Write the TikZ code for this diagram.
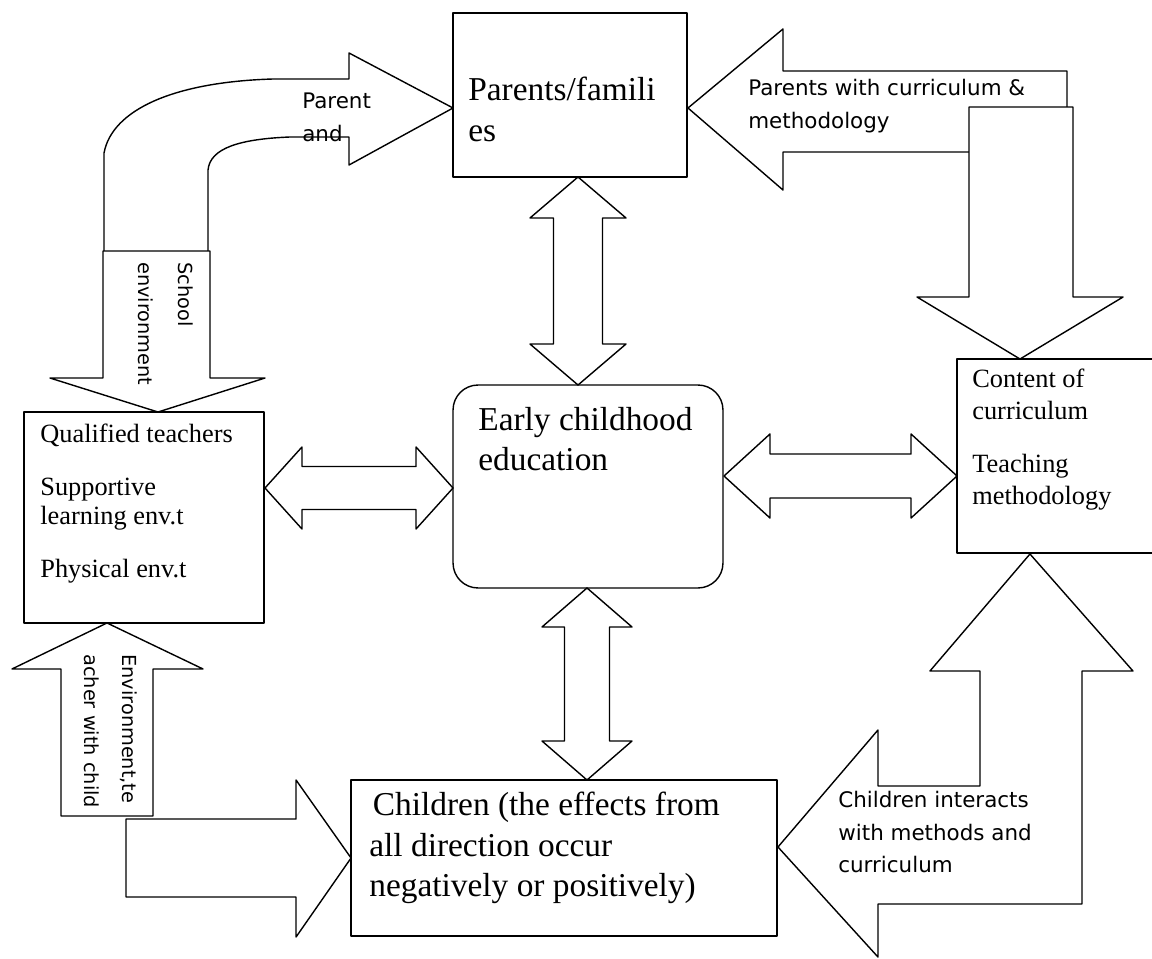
\documentclass[tikz,border=0pt]{standalone}
\usepackage{fontspec}
\setmainfont{Liberation Serif}
\newfontfamily\lblfont{DejaVu Sans}
\usetikzlibrary{calc}

\begin{document}
\begin{tikzpicture}[line cap=round,line join=round,x=0.02cm,y=-0.02cm,
  box/.style={draw,line width=0.8pt,inner sep=0pt,outer sep=0pt},
  blk/.style={draw,fill=white,line width=0.8pt},
  dblarr/.style n args={3}{blk,to path={
    -- ($(\tikztostart)!#3!(\tikztotarget)!#2!90:(\tikztotarget)$)
    -- ($(\tikztostart)!#3!(\tikztotarget)!#1!90:(\tikztotarget)$)
    -- ($(\tikztotarget)!#3!(\tikztostart)!#1!-90:(\tikztostart)$)
    -- ($(\tikztotarget)!#3!(\tikztostart)!#2!-90:(\tikztostart)$)
    -- (\tikztotarget)
    -- ($(\tikztotarget)!#3!(\tikztostart)!#2!90:(\tikztostart)$)
    -- ($(\tikztotarget)!#3!(\tikztostart)!#1!90:(\tikztostart)$)
    -- ($(\tikztostart)!#3!(\tikztotarget)!#1!-90:(\tikztotarget)$)
    -- ($(\tikztostart)!#3!(\tikztotarget)!#2!-90:(\tikztotarget)$)
    -- cycle}},
  big/.style={font=\fontsize{19}{23}\selectfont,align=left,inner sep=0pt,anchor=north west},
  mid/.style={font=\fontsize{15}{16.4}\selectfont,align=left,inner sep=0pt,anchor=north west},
  lbl/.style={font=\lblfont\fontsize{12.2}{18.5}\selectfont,align=left,inner sep=0pt,anchor=north west}]
\useasboundingbox (0,0) rectangle (1152,959);
%boxes
\node[box,minimum width=4.68cm,minimum height=3.28cm] (par) at (570,95) {};%parents
\node[box,rounded corners=0.5cm,minimum width=5.4cm,minimum height=4.06cm] (ece) at (588,486.5) {};%ece
\node[box,minimum width=4.8cm,minimum height=4.22cm] (tch) at (144,517.5) {};%teachers
\node[box,minimum width=4.06cm,minimum height=3.88cm] (cnt) at (1058.5,456) {};%content
\node[box,minimum width=8.52cm,minimum height=3.12cm] (chd) at (564,858) {};%children
%%%%%%%%
%tips
\coordinate (ptip) at ($(par.west)+(0,13)$);
\coordinate (ptip2) at ($(par.east)+(1,13)$);
\coordinate (ctip) at ($(cnt.north)+(-38.5,0)$);
\coordinate (ttip) at ($(tch.north)+(14,0)$);
\coordinate (btip) at ($(tch.south)+(-37,0)$);
\coordinate (ktip) at (chd.west);
\coordinate (ktip2) at ($(chd.east)+(1,-11)$);
%%school to parents (bent)
\draw[blk] (ptip) -- ++(-104,-55) -- ++(0,26) -- ++(-76,0)
  .. controls +(-100,3) and +(8,-43) .. ++(-169,74) -- ++(0,99) -- ++(104,0) -- ++(0,-82)
  .. controls +(2,-22) and +(-50,2) .. ++(82,-33) -- ++(59,0) -- ++(0,28) -- cycle;
%%school env down
\draw[blk] (ttip) -- ++(-108,-34) -- ++(53,0) -- ++(0,-127) -- ++(107,0) -- ++(0,127) -- ++(55,0) -- cycle;
%%parents with curriculum
\draw[blk] (ptip2) -- ++(95,-79) -- ++(0,42) -- ++(284,0) -- ++(0,81) -- ++(-284,0) -- ++(0,38) -- cycle;
%%down to content
\draw[blk] (ctip) -- ++(-103,-62) -- ++(52,0) -- ++(0,-190) -- ++(104,0) -- ++(0,190) -- ++(50,0) -- cycle;
%%to children from left
\draw[blk] (ktip) -- ++(-55,-78) -- ++(0,39) -- ++(-170,0) -- ++(0,78) -- ++(170,0) -- ++(0,40) -- cycle;
%%env teacher up
\draw[blk] (btip) -- ++(96,46) -- ++(-50,0) -- ++(0,147) -- ++(-92,0) -- ++(0,-147) -- ++(-49,0) -- cycle;
%%children interacts (L shape)
\draw[blk] (ktip2) -- ++(100,-117) -- ++(0,56) -- ++(102,0) -- ++(0,-115) -- ++(-50,0) -- ++(100,-117)
  -- ++(103,117) -- ++(-51,0) -- ++(0,233) -- ++(-204,0) -- ++(0,53) -- cycle;
%%double arrows
\coordinate (pa) at ($(par.south)+(8,0)$);
\coordinate (pb) at ($(ece.north)+(-10,0)$);
\coordinate (ea) at ($(ece.south)+(-1,0)$);
\coordinate (eb) at ($(chd.north)+(23,0)$);
\coordinate (ta) at ($(tch.east)+(1,-29.5)$);
\coordinate (tb) at (ece.west |- ta);
\coordinate (ec) at ($(ece.east)+(1,-10.5)$);
\coordinate (cb) at (cnt.west |- ec);
\draw[dblarr={0.49cm}{0.96cm}{0.82cm}] (pa) to (pb);
\draw[dblarr={0.45cm}{0.9cm}{0.78cm}] (ea) to (eb);
\draw[dblarr={0.43cm}{0.82cm}{0.74cm}] (ta) to (tb);
\draw[dblarr={0.44cm}{0.84cm}{0.92cm}] (ec) to (cb);
%labels
\node[big] (partxt) at (468,77) {Parents/famili\\es};
\node[big] (ecetxt) at (478,407) {Early childhood\\education};
\node[big] (chdtxt) at (369,792) {\hspace{2pt}Children (the effects from\\all direction occur\\negatively or positively)};
\node[mid] (tchtxt) at (40,424) {Qualified teachers\\[0.48cm]Supportive\\learning env.t\\[0.48cm]Physical env.t};
\node[mid,font=\fontsize{15}{18.1}\selectfont] (cnttxt) at (972,369) {Content of\\curriculum\\[0.42cm]Teaching\\methodology};
\node[lbl] (plbl) at (302,93) {Parent\\and};
\node[lbl] (pcm) at (748,79) {Parents with curriculum \&\\methodology};
\node[lbl] (kim) at (838,791) {Children interacts\\with methods and\\curriculum};
\node[lbl,font=\lblfont\fontsize{11}{23}\selectfont,rotate=-90] (slbl) at (194,262) {School\\environment};
\node[lbl,font=\lblfont\fontsize{11}{22}\selectfont,rotate=-90] (elbl) at (138,654) {Environment,te\\acher with child};
\end{tikzpicture}
\end{document}
